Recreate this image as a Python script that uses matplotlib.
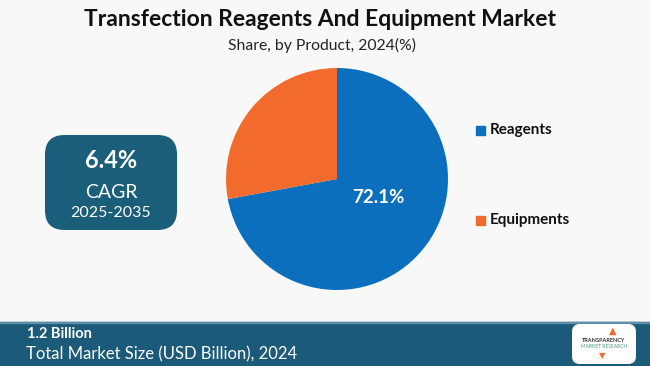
import matplotlib.pyplot as plt
from matplotlib.patches import FancyBboxPatch, Rectangle

# data
products = ["Reagents", "Equipments"]
shares = [72.1, 27.9]
colors = ["#0B6FBE", "#F26B2C"]
cagr = "6.4%"
cagr_period = "2025-2035"
market_size = "1.2 Billion"

W, H = 650, 366
fig = plt.figure(figsize=(W / 100, H / 100), dpi=100, facecolor="#F8F8F8")
plt.rcParams["font.family"] = ["Lato", "DejaVu Sans"]


def fx(x):
    return x / W


def fy(y):
    return 1 - y / H


# title
fig.text(fx(320), fy(20), "Transfection Reagents And Equipment Market",
         ha="center", va="center", fontsize=16.5, weight="bold", color="#111111")
fig.text(fx(322), fy(45), "Share, by Product, 2024(%)",
         ha="center", va="center", fontsize=11.3, color="#222222")

# pie
ax = fig.add_axes([fx(226), fy(290), fx(222), 222 / H])
wedges, _ = ax.pie(shares, colors=colors, startangle=90, counterclock=False,
                   wedgeprops=dict(linewidth=0))
ax.set_xlim(-1, 1)
ax.set_ylim(-1, 1)
ax.set_aspect("equal")
ax.text(0.37, -0.17, f"{shares[0]}%", ha="center", va="center",
        fontsize=13.5, weight="bold", color="white")

# legend
for i, (name, c) in enumerate(zip(products, colors)):
    y = 130 + i * 90
    fig.patches.append(Rectangle((fx(476), fy(y + 5)), fx(9), 9 / H,
                                 transform=fig.transFigure, color=c))
    fig.text(fx(490), fy(y), name, ha="left", va="center",
             fontsize=11, weight="bold", color="#111111")

# CAGR box
box = FancyBboxPatch((fx(45), fy(230)), fx(132), 95 / H,
                     boxstyle="round,pad=0,rounding_size=0.03",
                     transform=fig.transFigure, facecolor="#1B5E7A",
                     edgecolor="none", mutation_aspect=W / H)
fig.patches.append(box)
fig.text(fx(111), fy(161), cagr, ha="center", va="center",
         fontsize=17, weight="bold", color="white")
fig.text(fx(111), fy(192), "CAGR", ha="center", va="center",
         fontsize=14, color="white")
fig.text(fx(111), fy(213), cagr_period, ha="center", va="center",
         fontsize=11.5, color="white")

# bottom band
fig.patches.append(Rectangle((0, 0), 1, 44 / H, transform=fig.transFigure,
                             color="#1B5A78"))
fig.patches.append(Rectangle((0, fy(323)), 1, 1.5 / H, transform=fig.transFigure,
                             color="#5E8FA8"))
fig.text(fx(27), fy(334), market_size, ha="left", va="center",
         fontsize=10.5, weight="bold", color="white")
fig.text(fx(26), fy(354), "Total Market Size (USD Billion), 2024", ha="left",
         va="center", fontsize=12, color="white")

# logo
logo = FancyBboxPatch((fx(572), fy(364)), fx(64), 40 / H,
                      boxstyle="round,pad=0,rounding_size=0.012",
                      transform=fig.transFigure, facecolor="white",
                      edgecolor="none", mutation_aspect=W / H)
fig.patches.append(logo)
fig.text(fx(604), fy(341), "TRANSPARENCY", ha="center", va="center",
         fontsize=4, weight="bold", color="#333333")
fig.text(fx(604), fy(347), "MARKET RESEARCH", ha="center", va="center",
         fontsize=3.5, color="#4A9A8A")
fig.text(fx(613), fy(331), "\u25B2", ha="center", va="center",
         fontsize=7, color="#F26B2C")
fig.text(fx(602), fy(356), "\u25BC", ha="center", va="center",
         fontsize=6, color="#F26B2C")

fig.savefig("out.png", dpi=100, facecolor=fig.get_facecolor())
